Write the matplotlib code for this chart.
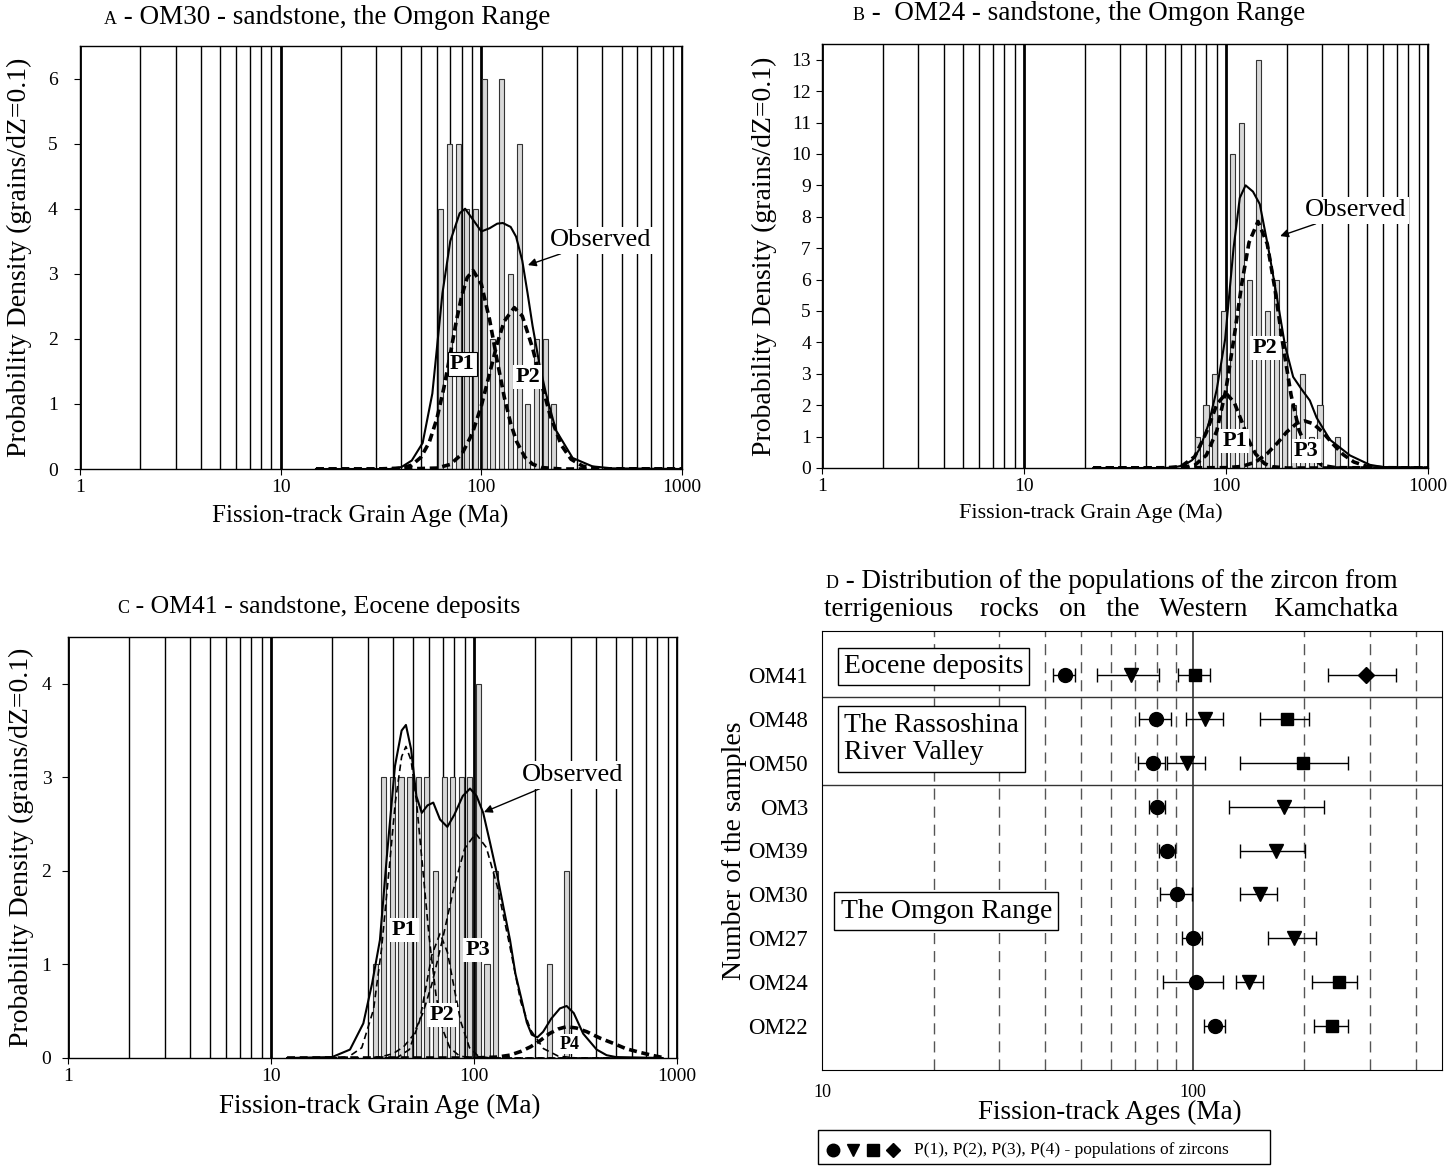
import numpy as np
import matplotlib.pyplot as plt
from matplotlib.offsetbox import TextArea, HPacker, AnnotationBbox
from matplotlib.lines import Line2D

plt.rcParams['font.family'] = ['Liberation Serif', 'DejaVu Serif']

# ---------------- A - OM30 ----------------
a_bin_age = [62.7, 69.3, 76.6, 84.6, 93.5, 103.3, 114.2, 126.2, 139.5, 154.2, 170.4, 188.3, 208.1, 230.0]
a_bin_count = [4, 5, 5, 4, 4, 6, 2, 6, 3, 5, 1, 2, 2, 1]
a_obs_age = [15, 35, 40, 45, 51, 57, 64, 70, 78, 83, 90, 100, 110, 120, 128, 140, 149, 160, 170, 180, 195, 210, 235, 285, 358, 450, 1000]
a_obs = [0, 0, 0.03, 0.13, 0.4, 1.16, 2.7, 3.5, 3.93, 4.0, 3.85, 3.65, 3.7, 3.77, 3.78, 3.72, 3.57, 3.2, 2.7, 2.2, 1.6, 1.16, 0.6, 0.17, 0.04, 0.01, 0]
a_p1_age = [15, 30, 40, 45, 50, 55, 60, 65, 70, 75, 80, 85, 91, 100, 110, 120, 130, 140, 150, 165, 180, 200, 250, 1000]
a_p1 = [0, 0, 0.014, 0.06, 0.18, 0.41, 0.77, 1.24, 1.76, 2.27, 2.67, 2.94, 3.05, 2.84, 2.29, 1.66, 1.11, 0.70, 0.42, 0.18, 0.075, 0.022, 0, 0]
a_p2_age = [15, 40, 60, 70, 80, 90, 100, 110, 120, 130, 146, 160, 180, 200, 220, 250, 280, 320, 400, 1000]
a_p2 = [0, 0, 0.014, 0.07, 0.23, 0.54, 0.97, 1.47, 1.93, 2.27, 2.48, 2.35, 1.86, 1.30, 0.83, 0.37, 0.15, 0.044, 0.003, 0]

# ---------------- B - OM24 ----------------
b_bin_age = [72.0, 79.6, 87.9, 97.2, 107.4, 118.7, 131.2, 145.0, 160.2, 177.1, 195.7, 216.3, 239.0, 264.2, 291.9, 322.6, 356.6]
b_bin_count = [1, 2, 3, 5, 10, 11, 6, 13, 5, 6, 4, 2, 3, 1, 2, 0, 1]
b_obs_age = [22, 50, 55, 61.5, 68, 74, 82, 90, 99, 109, 117, 125, 136, 147, 162, 178, 196, 215, 237, 260, 281, 327, 411, 516, 600, 1000]
b_obs = [0, 0, 0.02, 0.08, 0.25, 0.6, 1.4, 2.5, 4.1, 7.0, 8.6, 9.0, 8.8, 8.4, 7.0, 5.5, 3.9, 2.9, 2.5, 2.15, 1.6, 0.9, 0.4, 0.1, 0.03, 0]
b_p1_age = [22, 50, 60, 70, 80, 90, 100, 110, 120, 130, 140, 155, 170, 200, 1000]
b_p1 = [0, 0, 0.05, 0.36, 1.14, 2.02, 2.38, 2.08, 1.46, 0.86, 0.45, 0.14, 0.04, 0, 0]
b_p2_age = [22, 60, 70, 80, 90, 100, 110, 120, 130, 144, 160, 175, 190, 210, 230, 260, 300, 350, 1000]
b_p2 = [0, 0.01, 0.09, 0.41, 1.18, 2.51, 4.22, 5.91, 7.18, 7.85, 7.14, 5.67, 4.05, 2.32, 1.20, 0.40, 0.08, 0.01, 0]
b_p3_age = [22, 100, 120, 140, 160, 180, 200, 225, 245, 270, 300, 340, 380, 430, 500, 600, 1000]
b_p3 = [0, 0.01, 0.05, 0.19, 0.46, 0.80, 1.15, 1.43, 1.5, 1.41, 1.15, 0.75, 0.43, 0.19, 0.05, 0.01, 0]

# ---------------- C - OM41 ----------------
c_bin_age = [32.6, 35.9, 39.6, 43.7, 48.2, 53.1, 58.6, 64.5, 71.2, 78.4, 86.5, 95.3, 105.1, 115.9, 127.8, 235.0, 285.6]
c_bin_count = [1, 3, 3, 3, 3, 3, 3, 2, 3, 3, 3, 3, 4, 1, 2, 1, 2]
c_obs_age = [12, 20, 24.5, 28.5, 31.5, 34.4, 37.2, 40.8, 44, 46.2, 49, 52, 55.3, 59, 63, 68, 73.9, 80, 88, 95.6, 103, 111, 120, 129.4, 140, 150.5,
             160, 171.7, 182, 192.4, 205, 219, 240, 265, 286, 310, 345, 402, 450, 500, 850]
c_obs = [0, 0.01, 0.09, 0.37, 0.8, 1.26, 2.15, 3.12, 3.5, 3.56, 3.3, 2.8, 2.62, 2.7, 2.73, 2.55, 2.47, 2.6, 2.8, 2.88, 2.8, 2.62, 2.3, 1.98, 1.6, 1.26,
         0.9, 0.62, 0.38, 0.25, 0.22, 0.28, 0.42, 0.53, 0.556, 0.48, 0.26, 0.09, 0.03, 0.01, 0]
c_p1_age = [12, 20, 24, 28, 32, 35, 38, 41, 44, 46.2, 49, 52, 56, 60, 65, 70, 76, 85, 100, 850]
c_p1 = [0, 0, 0.01, 0.11, 0.52, 1.16, 1.97, 2.74, 3.22, 3.33, 3.18, 2.75, 2.01, 1.31, 0.67, 0.31, 0.11, 0.02, 0, 0]
c_p2_age = [12, 35, 42, 48, 54, 58, 62, 68, 74, 80, 86, 95, 105, 120, 850]
c_p2 = [0, 0, 0.007, 0.09, 0.40, 0.76, 1.10, 1.33, 1.13, 0.74, 0.39, 0.11, 0.02, 0, 0]
c_p3_age = [12, 25, 30, 35, 40, 45, 50, 56, 62, 70, 80, 90, 102, 115, 130, 150, 170, 190, 220, 260, 320, 850]
c_p3 = [0, 0, 0.003, 0.014, 0.047, 0.12, 0.24, 0.48, 0.79, 1.27, 1.84, 2.24, 2.40, 2.25, 1.84, 1.2, 0.6, 0.3, 0.1, 0.02, 0, 0]
c_p4_age = [12, 100, 130, 150, 170, 190, 210, 235, 260, 286, 320, 360, 420, 485, 560, 657, 750, 850]
c_p4 = [0, 0, 0.01, 0.03, 0.07, 0.12, 0.18, 0.26, 0.31, 0.335, 0.32, 0.28, 0.21, 0.157, 0.10, 0.06, 0.03, 0.005]

# ---------------- D - populations ----------------
d_samples = ['OM41', 'OM48', 'OM50', 'OM3', 'OM39', 'OM30', 'OM27', 'OM24', 'OM22']
nan = np.nan
d_p1 = [45.2, 79.5, 78.0, 80.0, 85.0, 90.6, 100.0, 102.0, 114.7]
d_p1_lo = [42.0, 71.5, 71.0, 76.0, 81.2, 81.7, 93.8, 83.0, 107.3]
d_p1_hi = [48.1, 87.6, 84.4, 83.9, 89.6, 99.6, 105.6, 120.9, 121.9]
d_p2 = [68.1, 107.9, 96.7, 175.7, 168.0, 151.7, 187.0, 142.1, nan]
d_p2_lo = [55.2, 95.8, 85.0, 125.2, 134.1, 134.1, 159.7, 130.5, nan]
d_p2_hi = [81.3, 120.4, 107.9, 226.0, 201.0, 168.6, 214.9, 154.2, nan]
d_p3 = [101.5, 179.0, 198.0, nan, nan, nan, nan, 248.3, 236.7]
d_p3_lo = [91.5, 151.4, 133.8, nan, nan, nan, nan, 209.9, 212.2]
d_p3_hi = [111.0, 206.3, 262.6, nan, nan, nan, nan, 277.0, 262.5]
d_p4 = [292.6, nan, nan, nan, nan, nan, nan, nan, nan]
d_p4_lo = [231.8, nan, nan, nan, nan, nan, nan, nan, nan]
d_p4_hi = [353.0, nan, nan, nan, nan, nan, nan, nan, nan]

W, H = 1452, 1166
fig = plt.figure(figsize=(W / 100, H / 100), dpi=100)


def px_axes(l, t, r, b):
    return fig.add_axes([l / W, 1 - b / H, (r - l) / W, (b - t) / H])


def title(x, y, letter, rest, size=19.5):
    box = HPacker(children=[TextArea(letter, textprops=dict(size=13)),
                            TextArea(rest, textprops=dict(size=size))],
                  align='baseline', pad=0, sep=0)
    ab = AnnotationBbox(box, (x, H - y), xycoords='figure pixels',
                        box_alignment=(0, 0.5), frameon=False)
    fig.add_artist(ab)


def hist_panel(ax, bins, counts, ymax, yticks, xlab_size, ypad):
    ages = np.array(bins)
    half = 10 ** 0.0125
    ax.bar(ages / half, counts, width=ages * half - ages / half, align='edge',
           color='#d8d8d8', edgecolor='#333333', linewidth=0.8, zorder=2)
    ax.set_xscale('log')
    ax.set_xlim(1, 1000)
    ax.set_ylim(0, ymax)
    ax.set_xticks([1, 10, 100, 1000])
    ax.set_xticklabels(['1', '10', '100', '1000'])
    ax.set_xticks([m * d for d in (1, 10, 100) for m in range(2, 10)], minor=True)
    ax.set_yticks(yticks)
    ax.grid(which='minor', axis='x', color='k', lw=1.0, zorder=1)
    ax.grid(which='major', axis='x', color='k', lw=2.0, zorder=1)
    ax.tick_params(which='minor', length=0)
    ax.tick_params(which='major', length=4, labelsize=14, direction='out')
    ax.tick_params(axis='y', pad=ypad)
    for s in ax.spines.values():
        s.set_linewidth(1.0)
    ax.set_xlabel('Fission-track Grain Age (Ma)', fontsize=xlab_size)
    ax.set_ylabel('Probability Density (grains/dZ=0.1)', fontsize=20)


def plabel(ax, x, y, txt, size=16, edge='none'):
    ax.text(x, y, txt, transform=ax.transAxes, ha='center', va='center',
            fontsize=size, fontweight='bold', zorder=6,
            bbox=dict(boxstyle='square,pad=0.1', fc='white', ec=edge, lw=0.8))


def observed(ax, xt, yt, xa, ya):
    ax.annotate('Observed', xy=(xa, ya), xycoords='axes fraction',
                xytext=(xt, yt), textcoords='axes fraction', ha='center', va='center',
                fontsize=19, zorder=6,
                bbox=dict(boxstyle='square,pad=0.1', fc='white', ec='none'),
                arrowprops=dict(arrowstyle='-|>', color='k', lw=1.0, mutation_scale=12,
                                shrinkA=0, shrinkB=0))


thick = dict(color='k', lw=2.6, ls=(0, (2.2, 1.3)), zorder=4)
thin = dict(color='k', lw=1.2, ls=(0, (4, 2.5)), zorder=4)
solid = dict(color='k', lw=1.5, zorder=5)

# Panel A
ax = px_axes(80, 46, 682, 469)
hist_panel(ax, a_bin_age, a_bin_count, 6.5, range(0, 7), 18, 12)
ax.plot(a_p1_age, a_p1, **thick)
ax.plot(a_p2_age, a_p2, **thick)
ax.plot(a_obs_age, a_obs, **solid)
plabel(ax, 0.635, 0.248, 'P1', edge='k')
plabel(ax, 0.744, 0.217, 'P2')
observed(ax, 0.864, 0.541, 0.744, 0.482)
ax.xaxis.set_label_coords(0.465, -0.085)
ax.yaxis.set_label_coords(-0.08, 0.5)
title(104, 17, 'A', ' - OM30 - sandstone, the Omgon Range')

# Panel B
ax = px_axes(822, 44, 1428, 468)
hist_panel(ax, b_bin_age, b_bin_count, 13.5, range(0, 14), 16, 4)
ax.plot(b_p1_age, b_p1, **thick)
ax.plot(b_p2_age, b_p2, **thick)
ax.plot(b_p3_age, b_p3, **thick)
ax.plot(b_obs_age, b_obs, **solid)
plabel(ax, 0.731, 0.283, 'P2')
plabel(ax, 0.681, 0.064, 'P1')
plabel(ax, 0.799, 0.040, 'P3')
observed(ax, 0.880, 0.608, 0.756, 0.547)
ax.xaxis.set_label_coords(0.444, -0.083)
ax.yaxis.set_label_coords(-0.074, 0.5)
title(853, 14, 'B', ' -  OM24 - sandstone, the Omgon Range')

# Panel C
ax = px_axes(68, 637, 677, 1058)
hist_panel(ax, c_bin_age, c_bin_count, 4.5, range(0, 5), 19.5, 8)
ax.plot(c_p1_age, c_p1, **thin)
ax.plot(c_p2_age, c_p2, **thin)
ax.plot(c_p3_age, c_p3, **thin)
ax.plot(c_p4_age, c_p4, **thick)
ax.plot(c_obs_age, c_obs, **solid)
plabel(ax, 0.552, 0.304, 'P1')
plabel(ax, 0.614, 0.102, 'P2')
plabel(ax, 0.673, 0.257, 'P3')
plabel(ax, 0.824, 0.033, 'P4', size=13)
observed(ax, 0.828, 0.672, 0.683, 0.584)
ax.xaxis.set_label_coords(0.512, -0.086)
ax.yaxis.set_label_coords(-0.056, 0.5)
title(117, 607, 'C', ' - OM41 - sandstone, Eocene deposits', size=18.5)

# Panel D
ax = px_axes(822, 631, 1442, 1070)
ypos = np.arange(len(d_samples), 0, -1)
series = [(d_p1, d_p1_lo, d_p1_hi, 'o', 10),
          (d_p2, d_p2_lo, d_p2_hi, 'v', 10),
          (d_p3, d_p3_lo, d_p3_hi, 's', 9),
          (d_p4, d_p4_lo, d_p4_hi, 'D', 8)]
for val, lo, hi, mk, ms in series:
    val, lo, hi = np.array(val), np.array(lo), np.array(hi)
    ax.errorbar(val, ypos, xerr=[val - lo, hi - val], fmt=mk, ms=ms, color='k',
                ecolor='k', elinewidth=1.0, capsize=5, capthick=1.0, zorder=5)
ax.set_xscale('log')
ax.set_xlim(10, 470)
ax.set_ylim(0, 10)
ax.set_xticks([10, 100])
ax.set_xticklabels(['10', '100'])
ax.set_xticks([20, 30, 40, 50, 60, 70, 80, 90, 200, 300, 400], minor=True)
ax.grid(which='minor', axis='x', color='#555555', lw=1.0, ls=(0, (8, 5)), zorder=1)
ax.axvline(100, color='#333333', lw=1.2, zorder=1)
ax.axhline(8.5, color='#333333', lw=1.0, zorder=2)
ax.axhline(6.5, color='#333333', lw=1.0, zorder=2)
ax.set_yticks(ypos)
ax.set_yticklabels(d_samples, fontsize=16.5)
ax.tick_params(which='both', length=0)
ax.tick_params(axis='y', pad=10)
ax.tick_params(axis='x', labelsize=13, pad=10)
ax.set_xlabel('Fission-track Ages (Ma)', fontsize=19.5)
ax.xaxis.set_label_coords(0.465, -0.068)
ax.set_ylabel('Number of the samples', fontsize=20)
ax.yaxis.set_label_coords(-0.121, 0.5)
boxkw = dict(boxstyle='square,pad=0.22', fc='white', ec='k', lw=1.0)
ax.text(0.035, 0.920, 'Eocene deposits', transform=ax.transAxes, fontsize=20,
        va='center', ha='left', bbox=boxkw, zorder=6)
ax.text(0.035, 0.754, 'The Rassoshina\nRiver Valley', transform=ax.transAxes, fontsize=20,
        va='center', ha='left', bbox=boxkw, zorder=6, linespacing=1.15)
ax.text(0.030, 0.362, 'The Omgon Range', transform=ax.transAxes, fontsize=20,
        va='center', ha='left', bbox=boxkw, zorder=6)
title(826, 582, 'D', ' - Distribution of the populations of the zircon from')
title(824, 610, '', 'terrigenious    rocks   on   the   Western    Kamchatka')

# legend box below panel D
for xm, mk, ms in [(833, 'o', 9), (853, 'v', 9), (873, 's', 8), (893, 'D', 7)]:
    fig.add_artist(Line2D([xm / W], [1 - 1150 / H], marker=mk, ms=ms, color='k',
                          ls='none', transform=fig.transFigure))
fig.text(914 / W, 1 - 1150 / H, 'P(1), P(2), P(3), P(4) - populations of zircons',
         fontsize=12.5, va='center')
fig.add_artist(plt.Rectangle((818 / W, 1 - 1164 / H), (1270 - 818) / W, 34 / H,
                             transform=fig.transFigure, fill=False, ec='k', lw=1.0))

fig.savefig('out.png', dpi=100)
